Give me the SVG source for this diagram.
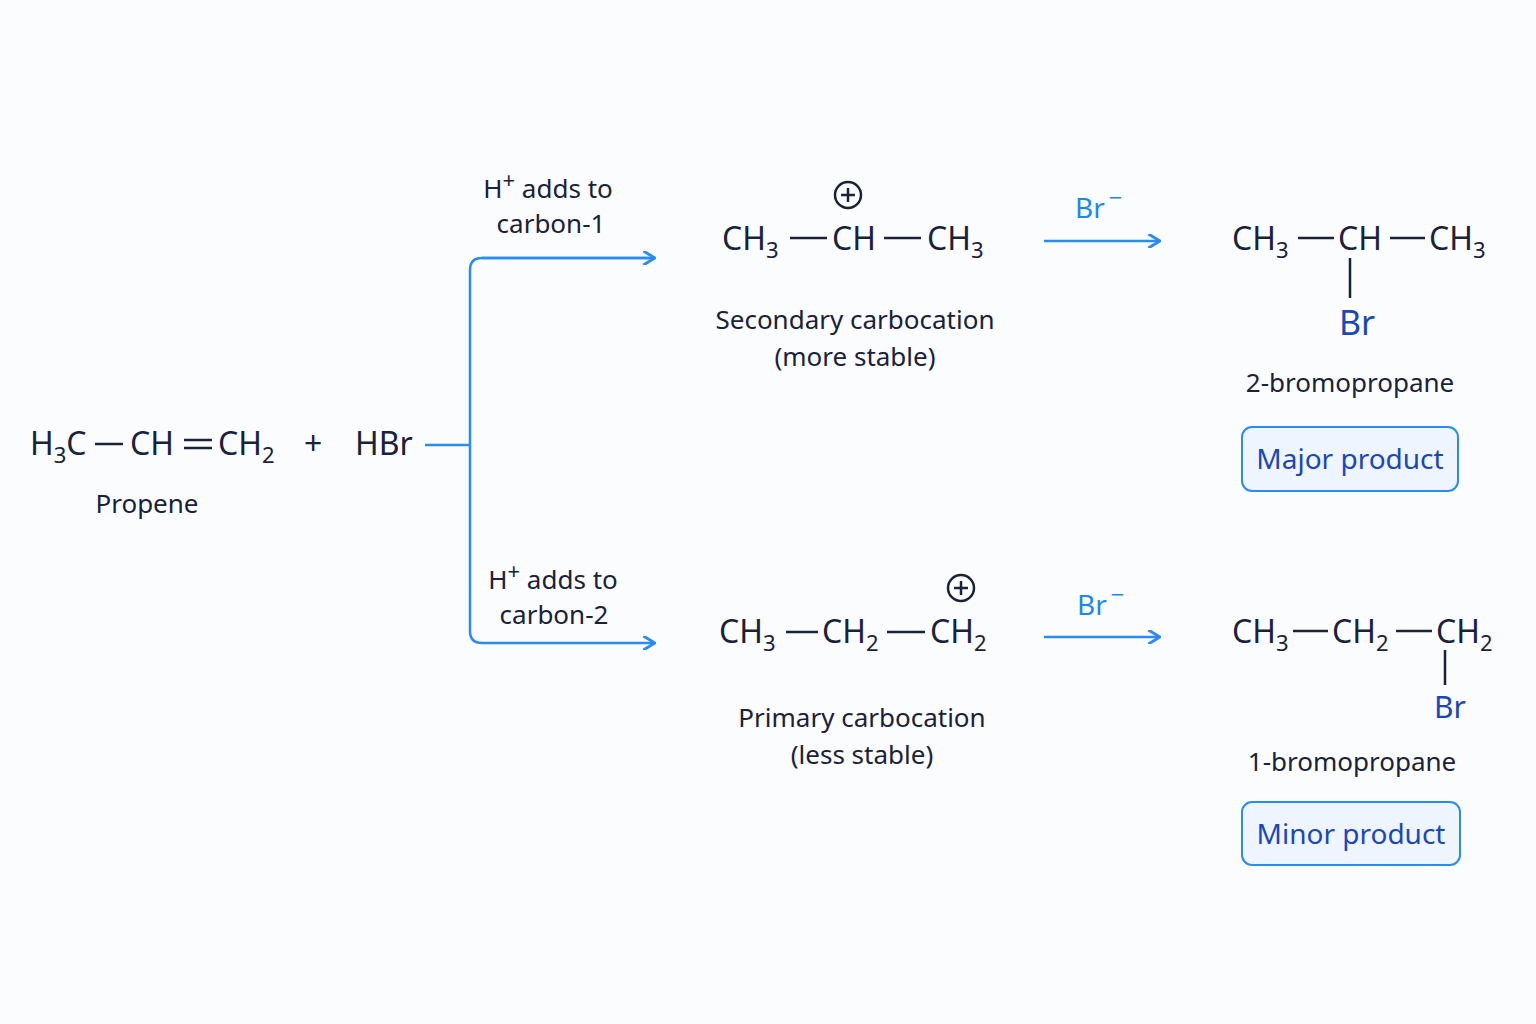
<svg xmlns="http://www.w3.org/2000/svg" width="1536" height="1024" viewBox="0 0 1536 1024">
<defs>
<style>
.t{font-family:"Noto Sans","Open Sans",sans-serif;fill:#1a2238}
.f{font-size:32px}
.l{font-size:26px}
.s{font-size:22px}
.b{stroke:#1a2238;stroke-width:2.5;fill:none}
.a{stroke:#2a8cf0;stroke-width:2.5;fill:none}
.br{font-family:"Noto Sans","Open Sans",sans-serif;fill:#1a47b8}
.box{fill:#eef5ff;stroke:#2a8cf0;stroke-width:2}
</style>
<marker id="ah" viewBox="0 0 12 12" refX="11" refY="6" markerWidth="14" markerHeight="14" markerUnits="userSpaceOnUse" orient="auto"><path d="M1,0 L11,6 L1,12" fill="none" stroke="#2a8cf0" stroke-width="2.5"/></marker>
</defs>
<rect width="1536" height="1024" fill="#fbfcfd"/>
<g id="propene">
<text class="t f" x="30" y="455">H<tspan class="s" dy="8">3</tspan><tspan dy="-8">C</tspan></text>
<line class="b" x1="95" y1="444" x2="123" y2="444"/>
<text class="t f" x="130" y="455">CH</text>
<line class="b" x1="184" y1="440" x2="212" y2="440"/><line class="b" x1="184" y1="448" x2="212" y2="448"/>
<text class="t f" x="218" y="455">CH<tspan class="s" dy="8">2</tspan></text>
<text class="t f" x="304" y="455">+</text>
<text class="t f" x="355" y="455">HBr</text>
<text class="t l" x="147" y="513" text-anchor="middle">Propene</text>
</g>
<g id="connectors">
<path class="a" d="M425,445 H470"/>
<path class="a" d="M655,258 H482 Q470,258 470,270 V631 Q470,643 482,643 H655" marker-end="url(#ah)"/>
<path class="a" d="M482,258 H655" marker-end="url(#ah)"/>
<path class="a" d="M1044,241 H1160" marker-end="url(#ah)"/>
<path class="a" d="M1044,637 H1160" marker-end="url(#ah)"/>
</g>
<g id="label1">
<text class="t l" x="548" y="198" text-anchor="middle">H<tspan class="s" dy="-10">+</tspan><tspan dy="10"> adds to</tspan></text>
<text class="t l" x="551" y="233" text-anchor="middle">carbon-1</text>
</g>
<g id="label2">
<text class="t l" x="553" y="589" text-anchor="middle">H<tspan class="s" dy="-10">+</tspan><tspan dy="10"> adds to</tspan></text>
<text class="t l" x="554" y="624" text-anchor="middle">carbon-2</text>
</g>
<g id="secondary">
<text class="t f" x="722" y="250">CH<tspan class="s" dy="8">3</tspan></text>
<line class="b" x1="790" y1="238" x2="827" y2="238"/>
<text class="t f" x="832" y="250">CH</text>
<line class="b" x1="884" y1="238" x2="921" y2="238"/>
<text class="t f" x="927" y="250">CH<tspan class="s" dy="8">3</tspan></text>
<circle class="b" cx="848" cy="195" r="13" stroke-width="2"/>
<path class="b" d="M841,195 H855 M848,188 V202" stroke-width="2"/>
<text class="t l" x="855" y="329" text-anchor="middle">Secondary carbocation</text>
<text class="t l" x="855" y="366" text-anchor="middle">(more stable)</text>
</g>
<g id="primary">
<text class="t f" x="719" y="643">CH<tspan class="s" dy="8">3</tspan></text>
<line class="b" x1="786" y1="632" x2="818" y2="632"/>
<text class="t f" x="822" y="643">CH<tspan class="s" dy="8">2</tspan></text>
<line class="b" x1="887" y1="632" x2="925" y2="632"/>
<text class="t f" x="930" y="643">CH<tspan class="s" dy="8">2</tspan></text>
<circle class="b" cx="961" cy="588" r="13" stroke-width="2"/>
<path class="b" d="M954,588 H968 M961,581 V595" stroke-width="2"/>
<text class="t l" x="862" y="727" text-anchor="middle">Primary carbocation</text>
<text class="t l" x="862" y="764" text-anchor="middle">(less stable)</text>
</g>
<g id="br1"><text x="1075" y="218" font-size="28" font-family="Noto Sans,sans-serif" fill="#1e88e5">Br<tspan font-size="24" dy="-12" dx="4">−</tspan></text></g>
<g id="br2"><text x="1077" y="615" font-size="28" font-family="Noto Sans,sans-serif" fill="#1e88e5">Br<tspan font-size="24" dy="-12" dx="4">−</tspan></text></g>
<g id="product1">
<text class="t f" x="1232" y="250">CH<tspan class="s" dy="8">3</tspan></text>
<line class="b" x1="1298" y1="238" x2="1334" y2="238"/>
<text class="t f" x="1338" y="250">CH</text>
<line class="b" x1="1390" y1="238" x2="1425" y2="238"/>
<text class="t f" x="1429" y="250">CH<tspan class="s" dy="8">3</tspan></text>
<line class="b" x1="1350" y1="258" x2="1350" y2="298"/>
<text class="br" x="1357" y="335" font-size="34" text-anchor="middle">Br</text>
<text class="t l" x="1350" y="392" text-anchor="middle">2-bromopropane</text>
</g>
<g id="major">
<rect class="box" x="1242" y="427" width="216" height="64" rx="10"/>
<text class="br" x="1350" y="469" font-size="28" text-anchor="middle">Major product</text>
</g>
<g id="product2">
<text class="t f" x="1232" y="643">CH<tspan class="s" dy="8">3</tspan></text>
<line class="b" x1="1293" y1="631" x2="1328" y2="631"/>
<text class="t f" x="1332" y="643">CH<tspan class="s" dy="8">2</tspan></text>
<line class="b" x1="1396" y1="631" x2="1432" y2="631"/>
<text class="t f" x="1436" y="643">CH<tspan class="s" dy="8">2</tspan></text>
<line class="b" x1="1445" y1="650" x2="1445" y2="685"/>
<text class="br" x="1450" y="718" font-size="30" text-anchor="middle">Br</text>
<text class="t l" x="1352" y="771" text-anchor="middle">1-bromopropane</text>
</g>
<g id="minor">
<rect class="box" x="1242" y="802" width="218" height="63" rx="10"/>
<text class="br" x="1351" y="844" font-size="28" text-anchor="middle">Minor product</text>
</g>
</svg>
